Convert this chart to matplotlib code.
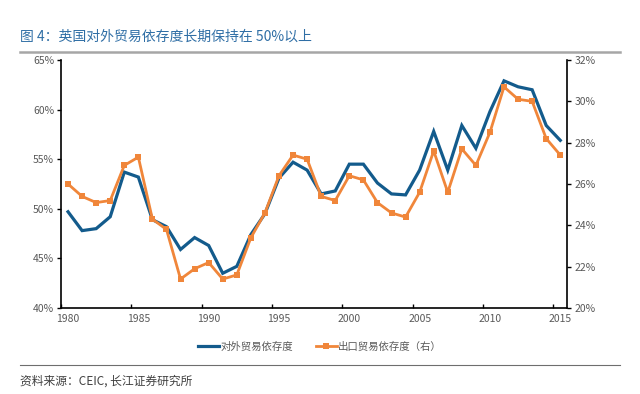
import matplotlib
matplotlib.use("Agg")
import matplotlib.pyplot as plt
from matplotlib.lines import Line2D
from matplotlib.ticker import FixedLocator, NullFormatter, FuncFormatter

plt.rcParams['font.family'] = ['Noto Sans CJK SC', 'DejaVu Sans']

years = list(range(1980, 2016))
trade_dependence = [49.7, 47.8, 48.0, 49.2, 53.7, 53.2, 48.9, 48.2, 45.9, 47.1,
                    46.3, 43.5, 44.2, 47.4, 49.5, 53.1, 54.7, 53.9, 51.5, 51.8,
                    54.5, 54.5, 52.6, 51.5, 51.4, 53.9, 57.8, 53.9, 58.4, 56.1,
                    59.8, 62.9, 62.3, 62.0, 58.4, 56.9]
export_dependence = [26.0, 25.4, 25.1, 25.2, 26.9, 27.3, 24.3, 23.8, 21.4, 21.9,
                     22.2, 21.4, 21.6, 23.4, 24.6, 26.4, 27.4, 27.2, 25.4, 25.2,
                     26.4, 26.2, 25.1, 24.6, 24.4, 25.6, 27.6, 25.6, 27.7, 26.9,
                     28.5, 30.7, 30.1, 30.0, 28.2, 27.4]
label_years = [1980, 1985, 1990, 1995, 2000, 2005, 2010, 2015]
left_ticks = [40, 45, 50, 55, 60, 65]
right_ticks = [20, 22, 24, 26, 28, 30, 32]
series_names = ['对外贸易依存度', '出口贸易依存度（右）']

BLUE = '#135b8c'
ORANGE = '#f0863a'
GRAY = '#595959'

fig = plt.figure(figsize=(6.4, 3.94), dpi=100)
ax = fig.add_axes([61/640, 1-308/394, (567.3-61)/640, (308-60)/394])
ax2 = ax.twinx()

ax.plot(years, trade_dependence, color=BLUE, lw=2.3, solid_joinstyle='miter', zorder=3)
ax2.plot(years, export_dependence, color=ORANGE, lw=2.0, marker='s', ms=4.6,
         markeredgewidth=0, zorder=2)

ax.set_xlim(1979.5, 2015.5)
ax.set_ylim(40, 65)
ax2.set_ylim(20, 32)

ax.xaxis.set_major_locator(FixedLocator([y - 0.5 for y in label_years]))
ax.xaxis.set_major_formatter(NullFormatter())
ax.xaxis.set_minor_locator(FixedLocator(label_years))
ax.xaxis.set_minor_formatter(FuncFormatter(lambda v, p: f'{int(round(v))}'))
ax.tick_params(axis='x', which='major', direction='in', length=3, width=1, color='black')
ax.tick_params(axis='x', which='minor', length=0, labelsize=7.5, labelcolor=GRAY, pad=4)

ax.set_yticks(left_ticks)
ax.set_yticklabels([f'{t}%' for t in left_ticks])
ax.tick_params(axis='y', direction='out', length=3, width=1, labelsize=7.5,
               labelcolor=GRAY, pad=2)
ax2.set_yticks(right_ticks)
ax2.set_yticklabels([f'{t}%' for t in right_ticks])
ax2.tick_params(axis='y', direction='out', length=3, width=1, labelsize=7.5,
                labelcolor=GRAY, pad=2)

for a in (ax, ax2):
    a.spines['top'].set_visible(False)
    for s in ('left', 'right', 'bottom'):
        a.spines[s].set_linewidth(1.2)
        a.spines[s].set_color('black')
ax.spines['right'].set_visible(False)
ax2.spines['left'].set_visible(False)
ax2.spines['bottom'].set_visible(False)

# legend
handles = [Line2D([], [], color=BLUE, lw=2.3),
           Line2D([], [], color=ORANGE, lw=2.0, marker='s', ms=4.6, markeredgewidth=0)]
fig.legend(handles, series_names, loc='center', bbox_to_anchor=(0.5, 1-347/394),
           ncol=2, frameon=False, fontsize=7.5, handlelength=2.0, handletextpad=0.1,
           columnspacing=2.2, labelcolor=GRAY)

# title and decorations
fig.text(20/640, 1-37/394, '图 4：英国对外贸易依存度长期保持在 50%以上', color='#2f6ea5',
         fontsize=10, va='center', ha='left')
fig.add_artist(Line2D([20/640, 620/640], [1-51.5/394, 1-51.5/394], color='#a6a6a6', lw=1.8))
fig.add_artist(Line2D([20/640, 620/640], [1-365/394, 1-365/394], color='#6e6e6e', lw=0.8))
fig.text(20/640, 1-381/394, '资料来源：CEIC, 长江证券研究所', color='#404040',
         fontsize=8.5, va='center', ha='left')

fig.savefig('out.png', dpi=100)
